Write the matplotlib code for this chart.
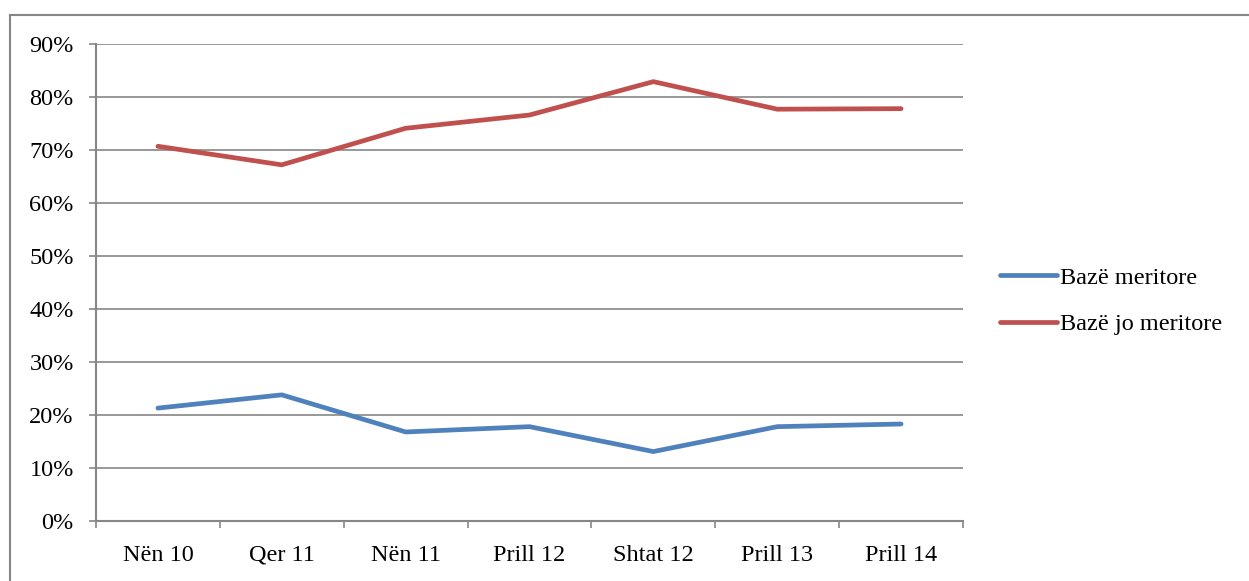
import matplotlib.pyplot as plt
import matplotlib.lines as mlines
from matplotlib.ticker import FixedLocator, FuncFormatter

# ── Data ────────────────────────────────────────────────────────────────
categories = ["Nën 10", "Qer 11", "Nën 11", "Prill 12", "Shtat 12", "Prill 13", "Prill 14"]
baze_meritore = [21.3, 23.8, 16.8, 17.8, 13.1, 17.8, 18.3]
baze_jo_meritore = [70.7, 67.2, 74.1, 76.6, 82.9, 77.7, 77.8]
series_labels = ["Bazë meritore", "Bazë jo meritore"]

plt.rcParams['font.family'] = ['Liberation Serif', 'DejaVu Serif']
grey = '#868686'
fs = 17.5

fig = plt.figure(figsize=(12.49, 5.81), dpi=100)
ax = fig.add_axes([96 / 1249, 1 - 521 / 581, (963 - 96) / 1249, (521 - 44) / 581])

x = list(range(len(categories)))
ax.plot(x, baze_meritore, color='#4F81BD', lw=3.4, label=series_labels[0], solid_capstyle='round')
ax.plot(x, baze_jo_meritore, color='#C0504D', lw=3.4, label=series_labels[1], solid_capstyle='round')

ax.set_xlim(-0.5, len(categories) - 0.5)
ax.set_ylim(0, 90)
ax.set_yticks(range(0, 91, 10))
ax.yaxis.set_major_formatter(FuncFormatter(lambda v, p: f"{int(v)}%"))
ax.set_xticks(x)
ax.set_xticklabels(categories)
ax.xaxis.set_minor_locator(FixedLocator([i - 0.5 for i in range(len(categories) + 1)]))

ax.grid(axis='y', color=grey, lw=1.2)
ax.set_axisbelow(True)
for side in ['top', 'right']:
    ax.spines[side].set_visible(False)
for side in ['left', 'bottom']:
    ax.spines[side].set_color(grey)
    ax.spines[side].set_linewidth(1.5)

ax.tick_params(axis='y', length=5, width=1.2, color=grey, labelsize=fs, pad=11)
ax.tick_params(axis='x', which='major', length=0, labelsize=fs, pad=17)
ax.tick_params(axis='x', which='minor', length=5, width=1.2, color=grey)

ax.legend(loc='center left', bbox_to_anchor=(978 / 1249, 1 - 301 / 581),
          bbox_transform=fig.transFigure, frameon=False, fontsize=fs,
          handlelength=2.35, handletextpad=0.12, labelspacing=1.0)

# outer frame (top and left edges only visible)
fig.add_artist(mlines.Line2D([10 / 1249, 1.0], [1 - 15 / 581, 1 - 15 / 581],
                             transform=fig.transFigure, color=grey, lw=1.5))
fig.add_artist(mlines.Line2D([10 / 1249, 10 / 1249], [0.0, 1 - 15 / 581],
                             transform=fig.transFigure, color=grey, lw=1.5))

fig.savefig("out.png", dpi=100)
